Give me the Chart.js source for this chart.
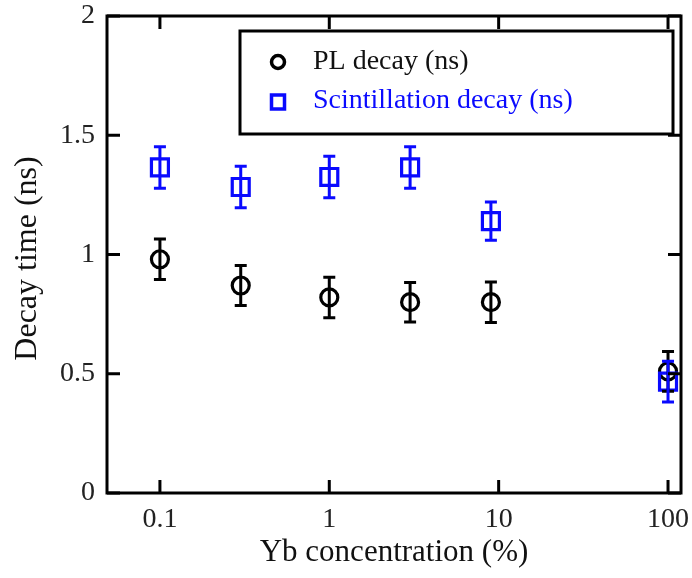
<!DOCTYPE html>
<html>
<head>
<meta charset="utf-8">
<script src="https://cdn.jsdelivr.net/npm/chart.js@4/dist/chart.umd.min.js"></script>
<style>
  html, body { margin: 0; padding: 0; background: #fff; }
  #wrap { width: 692px; height: 578px; }
</style>
</head>
<body>
<div id="wrap"><canvas id="chart" width="692" height="578"></canvas></div>
<script>
// data
const concPL = [0.1, 0.3, 1, 3, 9, 100];
const decayPL = [0.98, 0.87, 0.82, 0.80, 0.80, 0.51];
const errPL = [0.085, 0.084, 0.085, 0.083, 0.085, 0.083];

const concScint = [0.1, 0.3, 1, 3, 9, 100];
const decayScint = [1.365, 1.283, 1.325, 1.365, 1.14, 0.467];
const errScint = [0.087, 0.087, 0.087, 0.087, 0.08, 0.085];

const xTicks = [0.1, 1, 10, 100];
const xTickLabels = ['0.1', '1', '10', '100'];
const yTicks = [0, 0.5, 1, 1.5, 2];
const yTickLabels = ['0', '0.5', '1', '1.5', '2'];

const seriesNames = ['PL decay (ns)', 'Scintillation decay (ns)'];
const BLUE = '#0a0aff';
const FONT = '"Liberation Serif", "DejaVu Serif", serif';

// error bars
const errorBars = {
    id: 'errorBars',
    afterDatasetsDraw(chart) {
        const ctx = chart.ctx;
        const ys = chart.scales.y;
        chart.data.datasets.forEach((ds, i) => {
            const meta = chart.getDatasetMeta(i);
            ctx.save();
            ctx.strokeStyle = ds.borderColor;
            ctx.lineWidth = 3;
            meta.data.forEach((pt, j) => {
                const v = ds.data[j].y, e = ds.errors[j];
                const top = ys.getPixelForValue(v + e);
                const bot = ys.getPixelForValue(v - e);
                ctx.beginPath();
                ctx.moveTo(pt.x, top); ctx.lineTo(pt.x, bot);
                ctx.moveTo(pt.x - 6, top); ctx.lineTo(pt.x + 6, top);
                ctx.moveTo(pt.x - 6, bot); ctx.lineTo(pt.x + 6, bot);
                ctx.stroke();
            });
            ctx.restore();
        });
    }
};

// box frame, inward ticks, titles, legend
const frame = {
    id: 'frame',
    afterDraw(chart) {
        const ctx = chart.ctx;
        const a = chart.chartArea;
        const xs = chart.scales.x, ys = chart.scales.y;
        const tl = 13;
        ctx.save();
        ctx.strokeStyle = '#000';
        ctx.lineWidth = 3;
        ctx.strokeRect(a.left, a.top, a.right - a.left, a.bottom - a.top);
        ctx.beginPath();
        xTicks.forEach(v => {
            const x = xs.getPixelForValue(v);
            ctx.moveTo(x, a.bottom); ctx.lineTo(x, a.bottom - tl);
            ctx.moveTo(x, a.top); ctx.lineTo(x, a.top + tl);
        });
        yTicks.forEach(v => {
            const y = ys.getPixelForValue(v);
            ctx.moveTo(a.left, y); ctx.lineTo(a.left + tl, y);
            ctx.moveTo(a.right, y); ctx.lineTo(a.right - tl, y);
        });
        ctx.stroke();

        // axis titles
        ctx.fillStyle = '#111';
        ctx.font = '31px ' + FONT;
        ctx.textAlign = 'center';
        ctx.textBaseline = 'middle';
        ctx.fillText('Yb concentration (%)', (a.left + a.right) / 2, 553);
        ctx.save();
        ctx.font = '32px ' + FONT;
        ctx.translate(28, (a.top + a.bottom) / 2 + 4);
        ctx.rotate(-Math.PI / 2);
        ctx.fillText('Decay time (ns)', 0, 0);
        ctx.restore();

        // legend box
        const lx = 240, ly = 31, lw = 433, lh = 103;
        ctx.fillStyle = '#fff';
        ctx.fillRect(lx, ly, lw, lh);
        ctx.lineWidth = 3;
        ctx.strokeStyle = '#000';
        ctx.strokeRect(lx, ly, lw, lh);

        ctx.font = '28px ' + FONT;
        ctx.textAlign = 'left';
        ctx.textBaseline = 'middle';
        // PL entry
        ctx.lineWidth = 3.5;
        ctx.beginPath();
        ctx.arc(278, 62, 6.5, 0, Math.PI * 2);
        ctx.stroke();
        ctx.fillStyle = '#111';
        ctx.fillText(seriesNames[0], 313, 62);
        // scintillation entry
        ctx.strokeStyle = BLUE;
        ctx.strokeRect(271.5, 95, 13, 14);
        ctx.fillStyle = BLUE;
        ctx.fillText(seriesNames[1], 313, 101);
        ctx.restore();
    }
};

const toPts = (xs, ys) => xs.map((x, i) => ({ x: x, y: ys[i] }));

new Chart(document.getElementById('chart'), {
    type: 'scatter',
    data: {
        datasets: [
            {
                label: seriesNames[0],
                data: toPts(concPL, decayPL),
                errors: errPL,
                borderColor: '#000',
                backgroundColor: 'rgba(0,0,0,0)',
                pointStyle: 'circle',
                pointRadius: 8.5,
                pointBorderWidth: 3.2,
                order: 1
            },
            {
                label: seriesNames[1],
                data: toPts(concScint, decayScint),
                errors: errScint,
                borderColor: BLUE,
                backgroundColor: 'rgba(0,0,0,0)',
                pointStyle: 'rect',
                pointRadius: 12,
                pointBorderWidth: 3.2,
                order: 0
            }
        ]
    },
    options: {
        responsive: false,
        animation: false,
        events: [],
        layout: { autoPadding: false, padding: { left: 0, top: 16, right: 11, bottom: 0 } },
        plugins: { legend: { display: false }, tooltip: { enabled: false } },
        scales: {
            x: {
                type: 'logarithmic',
                min: 0.0487,
                max: 119.3,
                afterBuildTicks: s => { s.ticks = xTicks.map(v => ({ value: v, major: true })); },
                afterFit: s => { s.height = 85; s.paddingLeft = 0; s.paddingRight = 0; },
                grid: { display: false, drawTicks: false },
                border: { display: false },
                ticks: {
                    autoSkip: false,
                    maxRotation: 0,
                    padding: 10,
                    color: '#222',
                    font: { family: FONT, size: 28 },
                    callback: (v, i) => xTickLabels[i]
                }
            },
            y: {
                min: 0,
                max: 2,
                afterBuildTicks: s => { s.ticks = yTicks.map(v => ({ value: v })); },
                afterFit: s => { s.width = 107; s.paddingTop = 0; s.paddingBottom = 0; },
                grid: { display: false, drawTicks: false },
                border: { display: false },
                ticks: {
                    padding: 12,
                    color: '#222',
                    font: { family: FONT, size: 28 },
                    callback: (v, i) => yTickLabels[i]
                }
            }
        }
    },
    plugins: [errorBars, frame]
});
</script>
</body>
</html>
